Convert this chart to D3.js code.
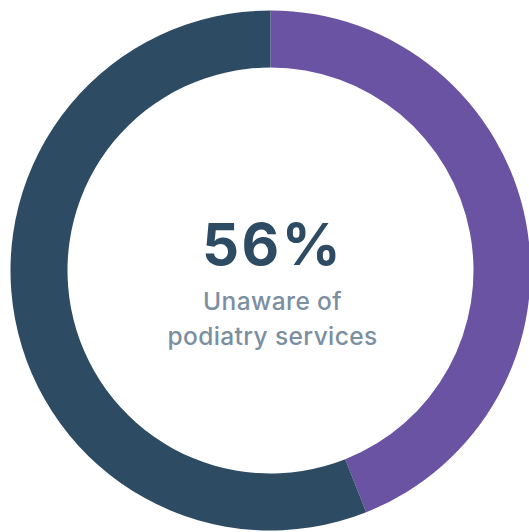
<!DOCTYPE html>
<html>
<head>
<meta charset="utf-8">
<script src="https://cdn.jsdelivr.net/npm/d3@7"></script>
<style>
  html, body { margin: 0; padding: 0; background: #ffffff; }
  svg { display: block; }
</style>
</head>
<body>
<svg id="chart" width="529" height="532"></svg>
<script>
// Share of respondents aware / unaware of podiatry services
const categories = ["Aware", "Unaware"];
const values = [44, 56];
const colors = ["#6b53a3", "#2d4b63"];
const headline = "56%";
const captionLines = ["Unaware of", "podiatry services"];

const svg = d3.select("#chart");
const cx = 270.5, cy = 270.5;
const outerR = 260, innerR = 203;

const pie = d3.pie().sort(null).value(d => d.value);
const arc = d3.arc().innerRadius(innerR).outerRadius(outerR);

const data = categories.map((c, i) => ({ category: c, value: values[i] }));
const color = d3.scaleOrdinal().domain(categories).range(colors);

const g = svg.append("g").attr("transform", `translate(${cx},${cy})`);
g.selectAll("path")
  .data(pie(data))
  .join("path")
  .attr("d", arc)
  .attr("fill", d => color(d.data.category));

// letter-spacing adds trailing space, so nudge right by half of it
g.append("text")
  .attr("text-anchor", "middle")
  .attr("x", 2)
  .attr("y", -5.5)
  .attr("fill", "#2d4b63")
  .style("font-family", "Inter, Lato, sans-serif")
  .style("font-weight", 700)
  .style("font-size", "58px")
  .style("letter-spacing", "2.5px")
  .text(headline);

g.selectAll("text.caption")
  .data(captionLines)
  .join("text")
  .attr("class", "caption")
  .attr("text-anchor", "middle")
  .attr("x", 2)
  .attr("y", (d, i) => 39.5 + i * 35)
  .attr("fill", "#7b8fa1")
  .style("font-family", "Inter, Lato, sans-serif")
  .style("font-weight", 500)
  .style("font-size", "24.5px")
  .style("letter-spacing", "0.4px")
  .text(d => d);
</script>
</body>
</html>
